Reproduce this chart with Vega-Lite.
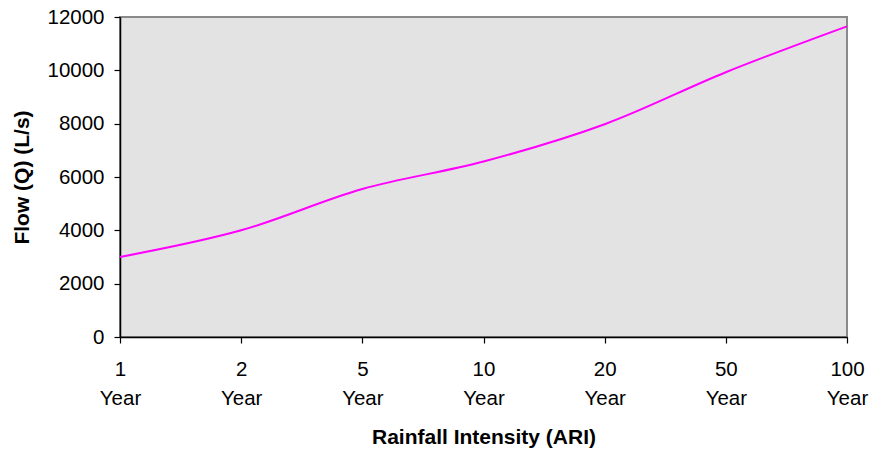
{
  "$schema": "https://vega.github.io/schema/vega-lite/v6.json",
  "width": 727,
  "height": 320,
  "autosize": "none",
  "padding": {"left": 120, "top": 17, "right": 22, "bottom": 116},
  "background": "white",
  "config": {
    "font": "Liberation Sans",
    "view": {"fill": "#e3e3e3", "stroke": "#8a8a8a", "strokeWidth": 2}
  },
  "data": {
    "values": [
      {"ari": "1 Year", "flow": 3000},
      {"ari": "2 Year", "flow": 4000},
      {"ari": "5 Year", "flow": 5550},
      {"ari": "10 Year", "flow": 6580},
      {"ari": "20 Year", "flow": 7980},
      {"ari": "50 Year", "flow": 9930},
      {"ari": "100 Year", "flow": 11650}
    ]
  },
  "mark": {"type": "line", "color": "#ff00ff", "strokeWidth": 2, "interpolate": "catmull-rom"},
  "encoding": {
    "x": {
      "field": "ari",
      "type": "ordinal",
      "sort": null,
      "scale": {"type": "point", "padding": 0},
      "axis": {
        "title": "Rainfall Intensity (ARI)",
        "titleFont": "Liberation Sans",
        "titleFontSize": 21,
        "titleFontWeight": "bold",
        "titleColor": "black",
        "titlePadding": 18,
        "labelExpr": "split(datum.label, ' ')",
        "labelAngle": 0,
        "labelFont": "Liberation Sans",
        "labelFontSize": 20.5,
        "labelColor": "black",
        "labelLineHeight": 29,
        "labelPadding": 16,
        "labelOverlap": false,
        "labelFlush": false,
        "domainColor": "black",
        "domainWidth": 1.5,
        "tickColor": "black",
        "tickSize": 6,
        "tickWidth": 1.2,
        "grid": false
      }
    },
    "y": {
      "field": "flow",
      "type": "quantitative",
      "scale": {"domain": [0, 12000], "nice": false},
      "axis": {
        "title": "Flow (Q) (L/s)",
        "titleFont": "Liberation Sans",
        "titleFontSize": 21,
        "titleFontWeight": "bold",
        "titleColor": "black",
        "titlePadding": 14,
        "values": [0, 2000, 4000, 6000, 8000, 10000, 12000],
        "format": "d",
        "labelFont": "Liberation Sans",
        "labelFontSize": 20.5,
        "labelColor": "black",
        "labelPadding": 10,
        "labelFlush": false,
        "domainColor": "black",
        "domainWidth": 1.5,
        "tickColor": "black",
        "tickSize": 6,
        "tickWidth": 1.2,
        "grid": false
      }
    }
  }
}
